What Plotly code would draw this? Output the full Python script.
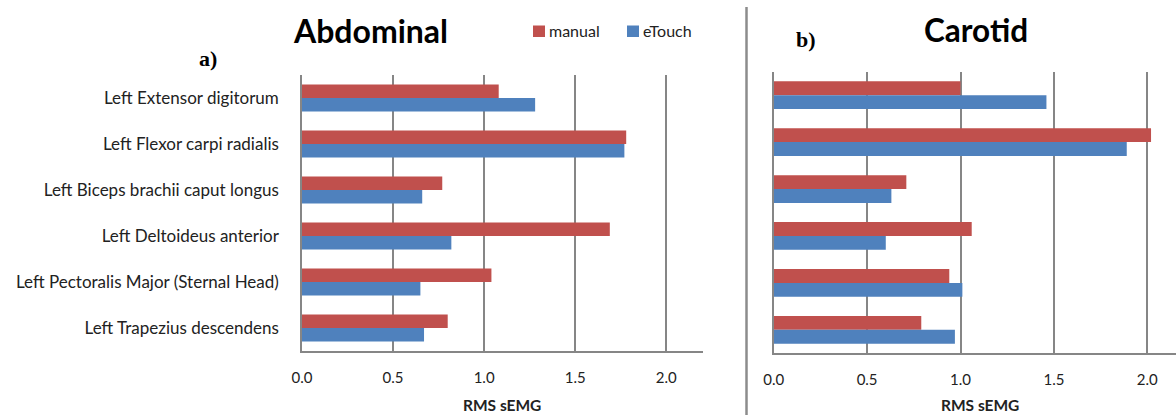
import plotly.graph_objects as go

categories = ["Left Extensor digitorum", "Left Flexor carpi radialis",
              "Left Biceps brachii caput longus", "Left Deltoideus anterior",
              "Left Pectoralis Major (Sternal Head)", "Left Trapezius descendens"]
abd_manual = [1.08, 1.78, 0.77, 1.69, 1.04, 0.80]
abd_etouch = [1.28, 1.77, 0.66, 0.82, 0.65, 0.67]
car_manual = [1.00, 2.02, 0.71, 1.06, 0.94, 0.79]
car_etouch = [1.46, 1.89, 0.63, 0.60, 1.01, 0.97]
x_ticks = [0.0, 0.5, 1.0, 1.5, 2.0]
series_names = ["manual", "eTouch"]

RED = "#C0504D"
BLUE = "#4F81BD"
GRID = "#868686"
FONT = "Lato"

W, H = 1176, 415

fig = go.Figure()
fig.add_trace(go.Bar(y=categories, x=abd_manual, orientation="h", name=series_names[0],
                     marker=dict(color=RED, line=dict(width=0)), xaxis="x", yaxis="y"))
fig.add_trace(go.Bar(y=categories, x=abd_etouch, orientation="h", name=series_names[1],
                     marker=dict(color=BLUE, line=dict(width=0)), xaxis="x", yaxis="y"))
fig.add_trace(go.Bar(y=categories, x=car_manual, orientation="h", name=series_names[0],
                     marker=dict(color=RED, line=dict(width=0)), xaxis="x2", yaxis="y2"))
fig.add_trace(go.Bar(y=categories, x=car_etouch, orientation="h", name=series_names[1],
                     marker=dict(color=BLUE, line=dict(width=0)), xaxis="x2", yaxis="y2"))

def px_x(p):
    return p / W

def px_y(p):
    return 1 - p / H

xcommon = dict(tickvals=x_ticks, tickformat=".1f", showgrid=True, gridcolor=GRID,
               gridwidth=1.5, showline=True, linecolor=GRID, linewidth=1.5,
               zeroline=False, ticks="", ticklabelstandoff=12, automargin=False,
               tickfont=dict(family=FONT, size=15, color="#222"))
fig.update_layout(
    width=W, height=H, margin=dict(l=0, r=0, t=0, b=0, autoexpand=False),
    paper_bgcolor="white", plot_bgcolor="white",
    barmode="group", bargap=0.41, bargroupgap=0,
    showlegend=False,
    xaxis=dict(domain=[px_x(302), px_x(702.7)], range=[0, 2.2], anchor="y", **xcommon),
    yaxis=dict(domain=[px_y(351), px_y(75)], autorange="reversed", anchor="x",
               showline=True, linecolor=GRID, linewidth=1.5, showgrid=False,
               ticks="", ticklabelstandoff=18, automargin=False,
               tickfont=dict(family=FONT, size=17, color="#222")),
    xaxis2=dict(domain=[px_x(773.7), 1.0], range=[0, (1176 - 773.7) / 186.8], anchor="y2", **xcommon),
    yaxis2=dict(domain=[px_y(353.3), px_y(71.7)], autorange="reversed", anchor="x2",
                showline=True, linecolor=GRID, linewidth=1.5, showgrid=False,
                showticklabels=False, ticks="", automargin=False),
)

ann = [
    dict(text="<b>Abdominal</b>", x=px_x(370), y=px_y(30), font=dict(family=FONT, size=32, color="black")),
    dict(text="<b>Carotid</b>", x=px_x(976), y=px_y(30), font=dict(family=FONT, size=31.5, color="black")),
    dict(text="<b>a)</b>", x=px_x(208), y=px_y(59), font=dict(family="Liberation Serif", size=22, color="black")),
    dict(text="<b>b)</b>", x=px_x(806), y=px_y(40), font=dict(family="Liberation Serif", size=22, color="black")),
    dict(text="<b>RMS sEMG</b>", x=px_x(502), y=px_y(405), font=dict(family=FONT, size=15.5, color="#222")),
    dict(text="<b>RMS sEMG</b>", x=px_x(979.5), y=px_y(405), font=dict(family=FONT, size=15.5, color="#222")),
]
for a in ann:
    fig.add_annotation(xref="paper", yref="paper", showarrow=False,
                       xanchor="center", yanchor="middle", **a)

# legend (manual key)
for name, color, sx in [(series_names[0], RED, 533), (series_names[1], BLUE, 627)]:
    fig.add_shape(type="rect", xref="paper", yref="paper",
                  x0=px_x(sx), x1=px_x(sx + 12), y0=px_y(37), y1=px_y(25.5),
                  fillcolor=color, line=dict(width=0))
    fig.add_annotation(xref="paper", yref="paper", showarrow=False,
                       x=px_x(sx + 14), y=px_y(31), xanchor="left", yanchor="middle",
                       text=name, font=dict(family=FONT, size=16, color="#222"))

fig.add_shape(type="line", xref="paper", yref="paper",
              x0=px_x(746.5), x1=px_x(746.5), y0=px_y(7), y1=0,
              line=dict(color="#8C8C8C", width=2.5))

fig.write_html("out.html")
